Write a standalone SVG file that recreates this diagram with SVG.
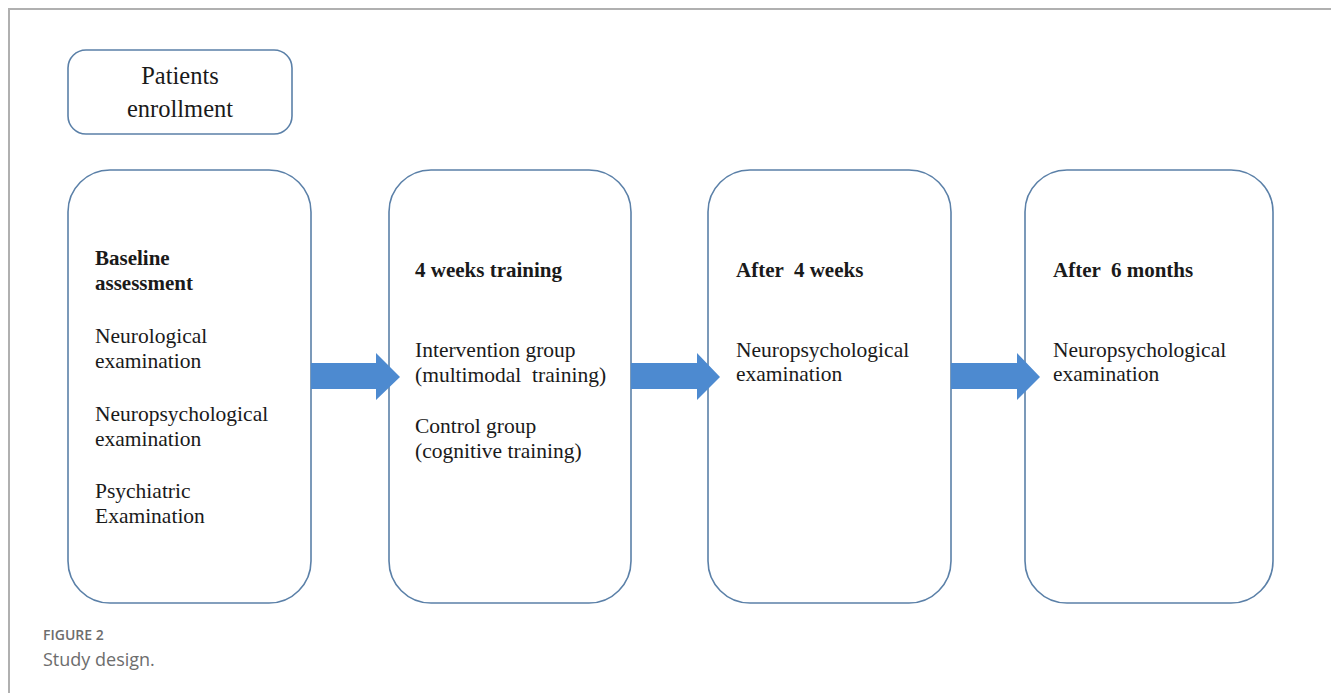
<svg xmlns="http://www.w3.org/2000/svg" width="1331" height="693" viewBox="0 0 1331 693">
<style>
.frame{fill:none;stroke:#b0b0b0;stroke-width:2}
.box{fill:#fff;stroke:#5b80a8;stroke-width:1.6}
.arrow{fill:#4d8ad0}
.t{font-family:"Liberation Serif","Times New Roman",serif;font-size:21.5px;fill:#1a1a1a}
.b{font-weight:bold;font-size:21px}
.title{font-family:"Liberation Serif","Times New Roman",serif;font-size:24.5px;fill:#1a1a1a;text-anchor:middle}
.cap1{font-family:"Open Sans","Lato",sans-serif;font-size:14px;font-weight:600;fill:#6d6d6d}
.cap2{font-family:"Open Sans","Lato",sans-serif;font-size:18px;fill:#6d6d6d}
</style>
<rect width="1331" height="693" fill="#fff"/>
<path class="frame" d="M9,693 V9 H1331"/>
<g id="enrollment">
<rect class="box" x="68" y="50" width="224" height="84" rx="18"/>
<text class="title" x="180" y="84">Patients</text>
<text class="title" x="180" y="117">enrollment</text>
</g>
<g id="baseline">
<rect class="box" x="68" y="170" width="243" height="433" rx="42"/>
<text class="t b" x="95" y="265">Baseline</text>
<text class="t b" x="95" y="290">assessment</text>
<text class="t" x="95" y="343">Neurological</text>
<text class="t" x="95" y="368">examination</text>
<text class="t" x="95" y="421">Neuropsychological</text>
<text class="t" x="95" y="446">examination</text>
<text class="t" x="95" y="498">Psychiatric</text>
<text class="t" x="95" y="523">Examination</text>
</g>
<g id="training">
<rect class="box" x="389" y="170" width="242" height="433" rx="42"/>
<text class="t b" x="415" y="277">4 weeks training</text>
<text class="t" x="415" y="357">Intervention group</text>
<text class="t" x="415" y="382" xml:space="preserve">(multimodal  training)</text>
<text class="t" x="415" y="433">Control group</text>
<text class="t" x="415" y="458">(cognitive training)</text>
</g>
<g id="after4w">
<rect class="box" x="708" y="170" width="243" height="433" rx="42"/>
<text class="t b" x="736" y="277" xml:space="preserve">After  4 weeks</text>
<text class="t" x="736" y="357">Neuropsychological</text>
<text class="t" x="736" y="381">examination</text>
</g>
<g id="after6m">
<rect class="box" x="1025" y="170" width="248" height="433" rx="42"/>
<text class="t b" x="1053" y="277" xml:space="preserve">After  6 months</text>
<text class="t" x="1053" y="357">Neuropsychological</text>
<text class="t" x="1053" y="381">examination</text>
</g>
<g id="connectors">
<path class="arrow" d="M311,363 H376 V353 L400,377 L376,400 V389 H311 Z"/>
<path class="arrow" d="M631,363 H697 V353 L720,377 L697,400 V389 H631 Z"/>
<path class="arrow" d="M951,363 H1017 V353 L1040,377 L1017,400 V389 H951 Z"/>
</g>
<text class="cap1" x="43" y="640">FIGURE 2</text>
<text class="cap2" x="43" y="666">Study design.</text>
</svg>
